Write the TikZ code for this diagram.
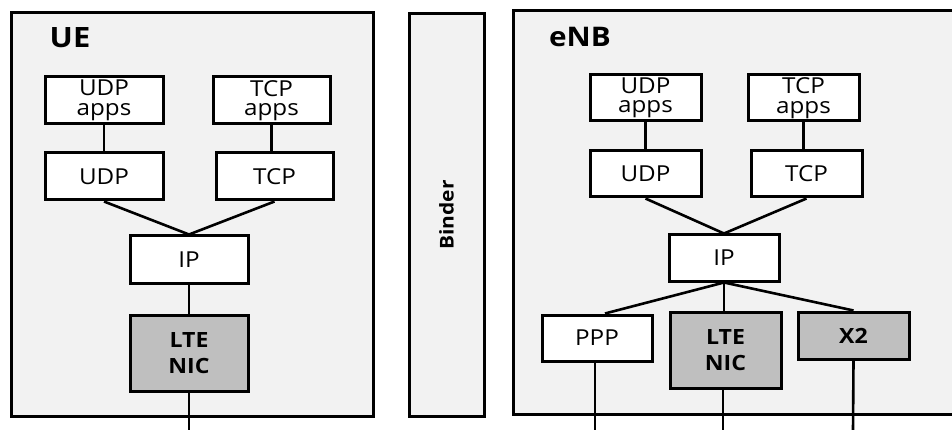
\documentclass[tikz,border=0pt]{standalone}
\usepackage{fontspec}
\setmainfont{Open Sans}[FakeStretch=1.1]
\begin{document}
\begin{tikzpicture}[x=1pt,y=-1pt,
  container/.style={draw=black,line width=3pt,fill=black!5},
  layer/.style={draw=black,line width=3pt,fill=white,inner sep=0pt,align=center,font=\fontsize{22}{19.5}\selectfont},
  nic/.style={layer,fill=black!25,font=\fontsize{21}{26}\selectfont\bfseries},
  link/.style={line width=2.6pt}]
\useasboundingbox (0,0) rectangle (952,430);
% containers
\draw[container] (11,13) rectangle (373,416);
\node[font=\fontsize{28}{28}\selectfont\bfseries] (uelbl) at (70,38) {UE};
\node[container,minimum width=75pt,minimum height=402pt,inner sep=0pt] (binder) at (446.5,215) {};
\node[rotate=90,font=\fontsize{19}{19}\selectfont\bfseries] (bindlbl) at (binder.center) {Binder};
\path[fill=black!5] (513,11) rectangle (960,414);
\draw[line width=3pt] (960,11) -- (513,11) -- (513,414) -- (960,414);
\node[font=\fontsize{27}{27}\selectfont\bfseries] (enblbl) at (580,37) {eNB};
% UE layers
\node[layer,minimum width=118pt,minimum height=47pt] (uudpa) at (104,100.5) {UDP\\apps};
\node[layer,minimum width=117pt,minimum height=47pt] (utcpa) at (271.5,100.5) {TCP\\apps};
\node[layer,minimum width=118pt,minimum height=47pt] (uudp) at (104,176.5) {UDP};
\node[layer,minimum width=117pt,minimum height=47pt] (utcp) at (274.5,176.5) {TCP};
\node[layer,minimum width=118pt,minimum height=47pt] (uip) at (189,259.5) {IP};
\node[nic,minimum width=118pt,minimum height=76pt] (unic) at (189,353) {LTE\\NIC};
\coordinate (uout) at (189,430);
\draw[link] (uudpa.south) -- (uudpa.south |- uudp.north);
\draw[link] (utcpa.south) -- (utcpa.south |- utcp.north);
\draw[link] (uudp.south) -- (uip.north);
\draw[link] (utcp.south) -- (uip.north);
\draw[link] (uip.south) -- (unic.north);
\draw[link] (unic.south) -- (uout);
% eNB layers
\node[layer,minimum width=111pt,minimum height=46pt] (eudpa) at (645.5,98) {UDP\\apps};
\node[layer,minimum width=111pt,minimum height=46pt] (etcpa) at (803.5,98) {TCP\\apps};
\node[layer,minimum width=111pt,minimum height=46pt] (eudp) at (645.5,174) {UDP};
\node[layer,minimum width=111pt,minimum height=46pt] (etcp) at (806.5,174) {TCP};
\node[layer,minimum width=110pt,minimum height=46pt] (eip) at (724,258) {IP};
\node[layer,minimum width=110pt,minimum height=46pt] (eppp) at (597,338) {PPP};
\node[nic,minimum width=111pt,minimum height=76pt] (enic) at (725.5,350) {LTE\\NIC};
\node[nic,minimum width=111pt,minimum height=47pt] (ex2) at (853.5,335.5) {X2};
\coordinate (epppout) at (595,430);
\coordinate (enicout) at (723,430);
\coordinate (ex2out) at (853,430);
\draw[link] (eudpa.south) -- (eudpa.south |- eudp.north);
\draw[link] (etcpa.south) -- (etcpa.south |- etcp.north);
\draw[link] (eudp.south) -- (eip.north);
\draw[link] (etcp.south) -- (eip.north);
\draw[link] (eip.south) -- ([xshift=8pt]eppp.north);
\draw[link] (eip.south) -- (eip.south |- enic.north);
\draw[link] (eip.south) -- (ex2.north);
\draw[link] (eppp.south -| epppout) -- (epppout);
\draw[link] (enic.south -| enicout) -- (enicout);
\draw[link] (ex2.south) -- (ex2out);
\end{tikzpicture}
\end{document}
